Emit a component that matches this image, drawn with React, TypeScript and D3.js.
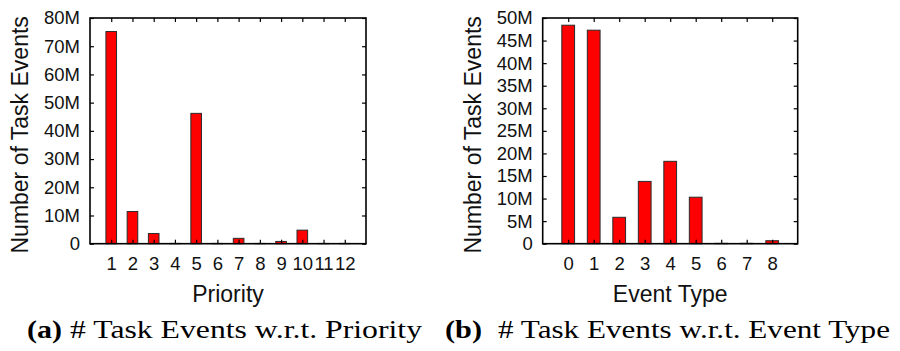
import React, { useRef, useEffect } from "react"
import * as d3 from "d3"

// values, in millions of task events
const priorities = [1, 2, 3, 4, 5, 6, 7, 8, 9, 10, 11, 12]
const priorityCounts = [75.2, 11.4, 3.6, 0.1, 46.2, 0.1, 1.9, 0.1, 0.8, 4.8, 0.1, 0.1]
const priorityTicks = [0, 10, 20, 30, 40, 50, 60, 70, 80]

const eventTypes = [0, 1, 2, 3, 4, 5, 6, 7, 8]
const eventCounts = [48.4, 47.3, 5.85, 13.8, 18.25, 10.3, 0.08, 0.08, 0.66]
const eventTicks = [0, 5, 10, 15, 20, 25, 30, 35, 40, 45, 50]

const W = 900
const H = 351
const sans = "Arial, Liberation Sans, Helvetica, sans-serif"
const serif = "Times New Roman, Liberation Serif, Times, serif"

const fmt = (d: number) => (d === 0 ? "0" : d + "M")

function drawPanel(svg: any, opts: any) {
  const { x0, x1, y0, y1, cats, vals, ticks, xDom, yMax, xTitle, titleX } = opts
  const x = d3.scaleLinear().domain(xDom).range([x0, x1])
  const y = d3.scaleLinear().domain([0, yMax]).range([y1, y0])
  const g = svg.append("g")

  // bars
  const bw = x(0.5) - x(0)
  g.selectAll("rect.bar")
    .data(cats)
    .enter()
    .append("rect")
    .attr("class", "bar")
    .attr("x", (d: number) => x(d) - bw / 2)
    .attr("y", (d: number, i: number) => y(vals[i]))
    .attr("width", bw)
    .attr("height", (d: number, i: number) => y(0) - y(vals[i]))
    .attr("fill", "#ff0000")
    .attr("stroke", "#2a2a2a")
    .attr("stroke-width", 1)

  // axes, ticks pointing inward like gnuplot
  const left = g.append("g").attr("transform", `translate(${x0},0)`)
    .call(d3.axisLeft(y).tickValues(ticks).tickSize(-4).tickPadding(10).tickFormat(fmt))
  const right = g.append("g").attr("transform", `translate(${x1},0)`)
    .call(d3.axisRight(y).tickValues(ticks).tickSize(-4).tickFormat(() => ""))
  const bottom = g.append("g").attr("transform", `translate(0,${y1})`)
    .call(d3.axisBottom(x).tickValues(cats).tickSize(-4).tickPadding(13).tickFormat((d: any) => String(d)))
  const top = g.append("g").attr("transform", `translate(0,${y0})`)
    .call(d3.axisTop(x).tickValues(cats).tickSize(-4).tickFormat(() => ""))

  ;[left, right, bottom, top].forEach((a) => {
    a.attr("font-family", null).attr("font-size", null)
    a.select(".domain").remove()
    a.selectAll("line").attr("stroke", "#000").attr("stroke-width", 1.2)
    a.selectAll("text").style("font-family", sans).style("font-size", "18.5px").attr("fill", "#111")
  })

  // frame
  g.append("rect")
    .attr("x", x0).attr("y", y0)
    .attr("width", x1 - x0).attr("height", y1 - y0)
    .attr("fill", "none").attr("stroke", "#000").attr("stroke-width", 1.6)

  g.append("text")
    .attr("x", (x0 + x1) / 2).attr("y", 302)
    .attr("text-anchor", "middle")
    .style("font-family", sans).style("font-size", "23px").attr("fill", "#111")
    .text(xTitle)

  g.append("text")
    .attr("transform", `translate(${titleX},${(y0 + y1) / 2 + 4}) rotate(-90)`)
    .attr("text-anchor", "middle")
    .style("font-family", sans).style("font-size", "23px").attr("fill", "#111")
    .text("Number of Task Events")
}

function caption(svg: any, x: number, tag: string, text: string, tagLen: number, textX: number, textLen: number) {
  const t = svg.append("g")
  t.append("text")
    .attr("x", x).attr("y", 338)
    .style("font-family", serif).style("font-weight", "bold").style("font-size", "26px")
    .attr("textLength", tagLen).attr("lengthAdjust", "spacingAndGlyphs")
    .text(tag)
  t.append("text")
    .attr("x", textX).attr("y", 338)
    .style("font-family", serif).style("font-size", "25px")
    .attr("textLength", textLen).attr("lengthAdjust", "spacingAndGlyphs")
    .text(text)
}

const App = () => {
  const ref = useRef<SVGSVGElement>(null)

  useEffect(() => {
    const svg = d3.select(ref.current)
    svg.selectAll("*").remove()

    drawPanel(svg, {
      x0: 90, x1: 366, y0: 18, y1: 243.7,
      cats: priorities, vals: priorityCounts, ticks: priorityTicks,
      xDom: [0, 13], yMax: 80, xTitle: "Priority", titleX: 28,
    })
    drawPanel(svg, {
      x0: 542.7, x1: 797.7, y0: 18, y1: 243.7,
      cats: eventTypes, vals: eventCounts, ticks: eventTicks,
      xDom: [-1, 9], yMax: 50, xTitle: "Event Type", titleX: 481,
    })

    caption(svg, 27, "(a)", "# Task Events w.r.t. Priority", 35, 70, 352)
    caption(svg, 445, "(b)", "# Task Events w.r.t. Event Type", 37, 498, 392)
  }, [])

  return (
    <svg ref={ref} width={W} height={H} style={{ display: "block", position: "absolute", left: 0, top: 0, background: "#fff" }} />
  )
}

export default App
